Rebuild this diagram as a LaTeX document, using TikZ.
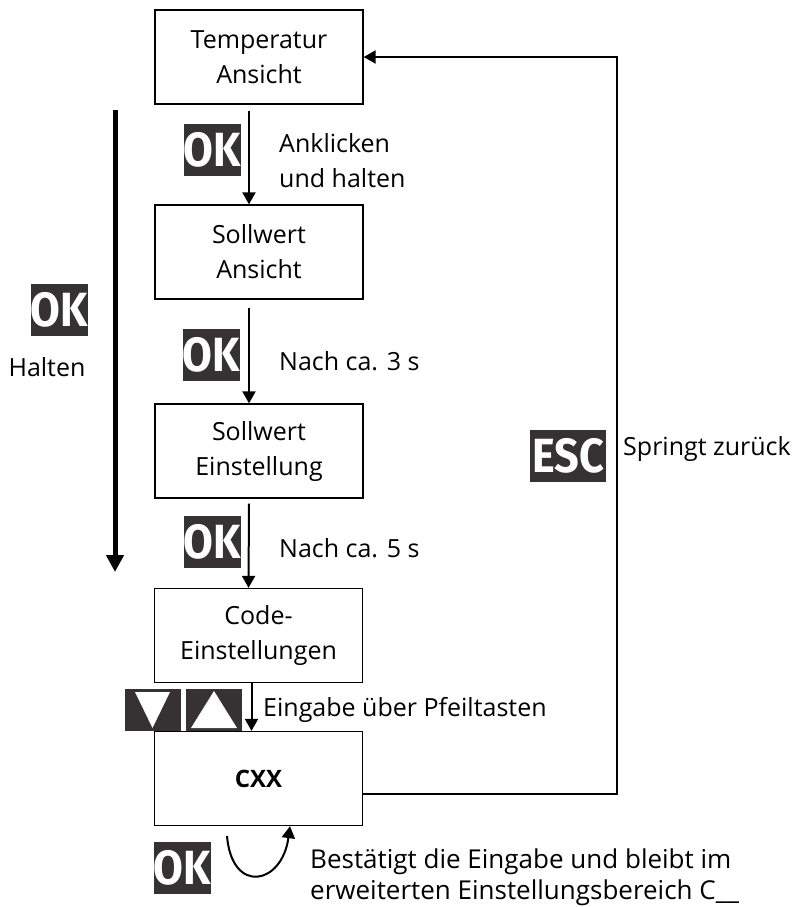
\documentclass[tikz,border=0pt]{standalone}
\usepackage{fontspec}
\setmainfont{Open Sans}
\newfontfamily\keyfont{Fira Sans}
\usetikzlibrary{arrows.meta}
\definecolor{keygray}{HTML}{363233}
\begin{document}
\begin{tikzpicture}[x=1pt,y=-1pt,
  every node/.style={font=\fontsize{25}{35}\selectfont},
  box/.style={draw,line width=1.3pt,minimum width=208pt,minimum height=94pt,align=center,inner sep=0pt},
  key/.style={fill=keygray,text=white,inner sep=0pt,font=\keyfont\bfseries\fontsize{48}{48}\selectfont},
  arr/.style={line width=2pt,-{Triangle[width=13pt,length=12pt]}},
  bigarr/.style={line width=5pt,-{Triangle[width=17pt,length=17pt]}},
  lbl/.style={anchor=base west,inner sep=0pt,align=left}]
\useasboundingbox (0,0) rectangle (794,907);
% boxes
\node[box] (b1) at (259,57) {Temperatur\\Ansicht};
\node[box] (b2) at (259,252) {Sollwert\\Ansicht};
\node[box] (b3) at (259,451) {Sollwert\\Einstellung};
\node[box] (b4) at (258.5,635.5) {Code-\\Einstellungen};
\node[box,font=\bfseries\fontsize{24}{28}\selectfont] (b5) at (258.5,778.5) {CXX};
% vertical arrows
\draw[arr] ([xshift=-10pt,yshift=-6pt]b1.south) -- ([xshift=-10pt]b2.north);
\draw[arr] ([xshift=-10pt,yshift=-8pt]b2.south) -- ([xshift=-10pt]b3.north);
\draw[arr] ([xshift=-10pt,yshift=-5pt]b3.south) -- ([xshift=-10pt]b4.north);
\draw[arr] ([xshift=-7pt]b4.south) -- ([xshift=-7pt]b5.north);
% return path
\coordinate (rc) at (617,794);
\draw[arr] (b5.east |- rc) -- (rc) |- (b1.east);
% big left arrow
\coordinate (lt) at (115,110);
\coordinate (lb) at (115,572);
\draw[bigarr] (lt) -- (lb);
% keys
\node[key,minimum width=55pt,minimum height=52pt] (k1) at (212.5,150) {\scalebox{0.9}[1]{OK}};
\node[key,minimum width=55pt,minimum height=52pt] (k2) at (211.5,355) {\scalebox{0.9}[1]{OK}};
\node[key,minimum width=55pt,minimum height=52pt] (k3) at (212.5,542) {\scalebox{0.9}[1]{OK}};
\node[key,minimum width=55pt,minimum height=52pt] (k0) at (59.5,310) {\scalebox{0.9}[1]{OK}};
\node[key,minimum width=55pt,minimum height=52pt] (k5) at (182.5,867.5) {\scalebox{0.9}[1]{OK}};
\node[key,minimum width=76pt,minimum height=52pt] (ke) at (568,456) {\scalebox{0.9}[1]{ESC}};
% arrow keys
\node[fill=keygray,minimum width=56pt,minimum height=42pt,inner sep=0pt] (kd) at (153,710) {};
\node[fill=keygray,minimum width=56pt,minimum height=42pt,inner sep=0pt] (ku) at (214,710) {};
\fill[white] (135,692) -- (170,692) -- (152.5,728) -- cycle;
\fill[white] (191,728) -- (237,728) -- (214,691) -- cycle;
% labels (base anchor = baseline of last line)
\node[lbl] (t1) at (279,187) {Anklicken\\und halten};
\node[lbl] (t2) at (279,370) {Nach ca. 3 s};
\node[lbl] (t3) at (279,557) {Nach ca. 5 s};
\node[lbl] (t4) at (263,716) {Eingabe über Pfeiltasten};
\node[lbl] (t5) at (623,455) {Springt zurück};
\node[lbl,font=\fontsize{26}{31}\selectfont] (t6) at (310,899) {Bestätigt die Eingabe und bleibt im\\erweiterten Einstellungsbereich C\_\_};
\node[anchor=base,inner sep=0pt] (t0) at (47,376) {Halten};
% loop arrow under CXX
\coordinate (ls) at (227,836);
\draw[line width=2pt,-{Triangle[width=13pt,length=12pt]}] (ls) .. controls (232,895) and (282,885) .. ([xshift=31.5pt]b5.south);
\end{tikzpicture}
\end{document}
